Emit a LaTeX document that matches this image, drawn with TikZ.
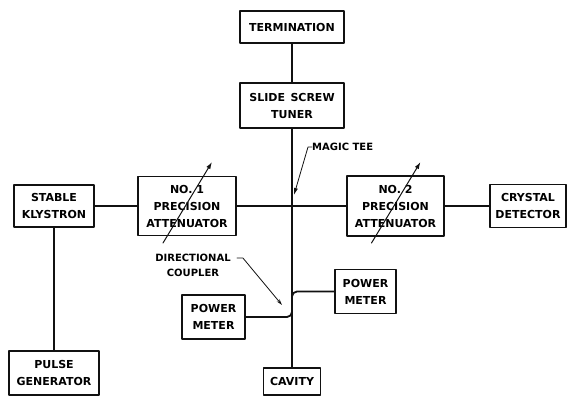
\documentclass[tikz,border=0pt]{standalone}
\usepackage{fontspec}
\setmainfont{DejaVu Sans}
\usetikzlibrary{arrows.meta}
\newcommand{\Unit}{1pt}
\newcommand{\Edge}{1.3pt}
\newcommand{\Guide}{1.8pt}
\newcommand{\Thin}{0.8pt}
\definecolor{ink}{HTML}{111111}

\tikzset{
  unit/.style={draw=ink, fill=white, line width=\Edge, inner sep=1pt, align=center,
    font=\fontsize{11}{17}\selectfont\bfseries},
  guide/.style={draw=ink, line width=\Guide},
  knob/.style={draw=ink, line width=1pt, -{Latex[length=7pt,width=4.5pt]}},
  pointer/.style={draw=ink, line width=\Thin},
  tag/.style={inner sep=0pt, align=center, font=\fontsize{10}{15}\selectfont\bfseries}
}

\begin{document}
\begin{tikzpicture}[x=\Unit,y=-\Unit, line join=round, line cap=round]
  \useasboundingbox (0,0) rectangle (570,396);

  % ---- the arm going up: tuner and load -----------------------------------
  \node[unit, minimum width=104pt, minimum height=32pt] (term) at (292,27) {TERMINATION};
  \node[unit, minimum width=104pt, minimum height=45pt] (tuner) at (292,105.5) {SLIDE\enspace SCREW\\TUNER};

  % ---- the main run, left to right ----------------------------------------
  \node[unit, minimum width=80pt, minimum height=42pt] (klys) at (54,206) {STABLE\\KLYSTRON};
  \node[unit, minimum width=98pt, minimum height=59pt] (att1) at (187,206) {NO. 1\\PRECISION\\ATTENUATOR};
  \node[unit, minimum width=97pt, minimum height=60pt] (att2) at (395.5,206) {NO. 2\\PRECISION\\ATTENUATOR};
  \node[unit, minimum width=76pt, minimum height=43pt] (crys) at (528,206) {CRYSTAL\\DETECTOR};

  % ---- what hangs below ---------------------------------------------------
  \node[unit, minimum width=90pt, minimum height=44pt] (pulse) at (54,373) {PULSE\\GENERATOR};
  \node[unit, minimum width=63pt, minimum height=44pt] (pmL) at (213.5,317) {POWER\\METER};
  \node[unit, minimum width=61pt, minimum height=44pt] (pmR) at (365.5,291.5) {POWER\\METER};
  \node[unit, minimum width=57pt, minimum height=27pt] (cav) at (292,381.5) {CAVITY};

  % ---- waveguide runs -----------------------------------------------------
  \draw[guide] (term.south) -- (tuner.north);
  \draw[guide] (tuner.south) -- (tuner.south |- cav.north);
  \draw[guide] (klys.east) -- (att1.west);
  \draw[guide] (att1.east) -- (att2.west);
  \draw[guide] (att2.east) -- (crys.west);
  \draw[guide] (klys.south) -- (pulse.north);

  % The coupler's two side arms bend into the run to the cavity.
  \coordinate (cplL) at (292,303);
  \coordinate (cplR) at (292,305);
  \draw[guide, rounded corners=5pt] (pmL.east) -| (cplL);
  \draw[guide, rounded corners=5pt] (pmR.west) -| (cplR);

  % ---- the knobs on the two attenuators -----------------------------------
  \foreach \a in {att1,att2}
    \draw[knob] ([shift={(-24,37)}]\a.center) -- ([shift={(25,-44)}]\a.center);

  % ---- labels with leaders ------------------------------------------------
  \coordinate (tee) at (tuner.south |- att1.east);
  \node[tag, anchor=west] (teetag) at (312,147) {MAGIC TEE};
  \draw[pointer, -{Latex[length=7pt,width=4pt]}] (teetag.west) -- ++(-4,0) -- ([shift={(2,-11)}]tee);

  \node[tag] (cpltag) at (193,265.5) {DIRECTIONAL\\COUPLER};
  \coordinate (cpltip) at (282,305);
  \draw[pointer, -{Stealth[length=6pt,width=3.5pt]}] ([yshift=7.5pt]cpltag.east) ++(6,0) -- ++(6,0) -- (cpltip);

\end{tikzpicture}
\end{document}
